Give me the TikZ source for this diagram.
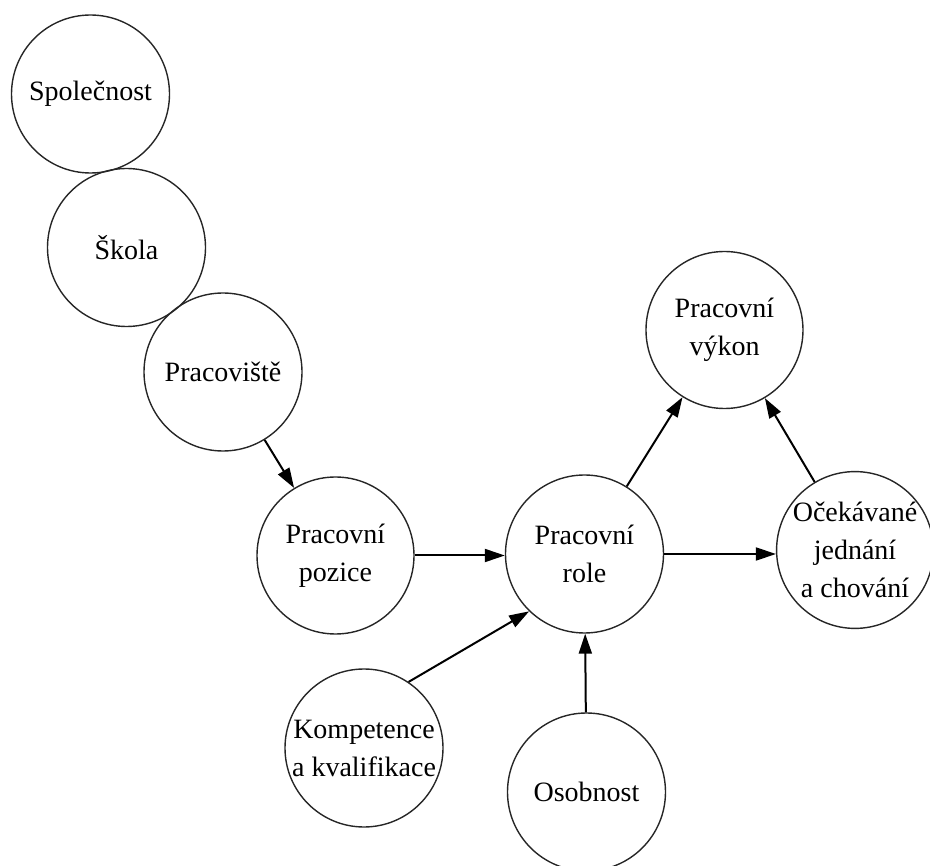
\documentclass[tikz,border=0pt]{standalone}
\usepackage{fontspec}
\setmainfont{Liberation Serif}
\usetikzlibrary{arrows.meta}
\begin{document}
\begin{tikzpicture}[x=1pt,y=-1pt,
  bub/.style={circle,draw=black!85,line width=1.4pt,inner sep=0pt,
    align=center,font={\fontsize{28}{38}\selectfont}},
  conn/.style={line width=2pt,-{Triangle[length=20pt,width=13pt]}}]
\useasboundingbox (0,0) rectangle (930,866);
\node[bub,minimum size=158pt] (spol) at (90.5,94) {Společnost};
\node[bub,minimum size=158pt] (skola) at (126.5,247.5) {Škola};
\node[bub,minimum size=158pt] (prac) at (223,372) {Pracoviště};
\node[bub,minimum size=157pt] (pozice) at (335.5,555.5) {Pracovní\\pozice};
\node[bub,minimum size=158pt] (role) at (584.5,554) {Pracovní\\role};
\node[bub,minimum size=157pt] (vykon) at (724.5,330) {Pracovní\\výkon};
\node[bub,minimum size=154pt] (ocek) at (855,550) {Očekávané\\jednání\\a chování};
\node[bub,minimum size=158pt] (komp) at (364,748) {Kompetence\\a kvalifikace};
\node[bub,minimum size=158pt] (oso) at (586.5,792) {Osobnost};
\draw[conn] (prac) -- (pozice);
\draw[conn] (pozice.east) -- (pozice.east -| role.west);
\draw[conn] (komp.56) -- (role.226);
\draw[conn] (oso) -- (role);
\draw[conn] (role) -- (vykon);
\draw[conn] (role.east) -- (role.east -| ocek.west);
\draw[conn] (ocek) -- (vykon);
\end{tikzpicture}
\end{document}
